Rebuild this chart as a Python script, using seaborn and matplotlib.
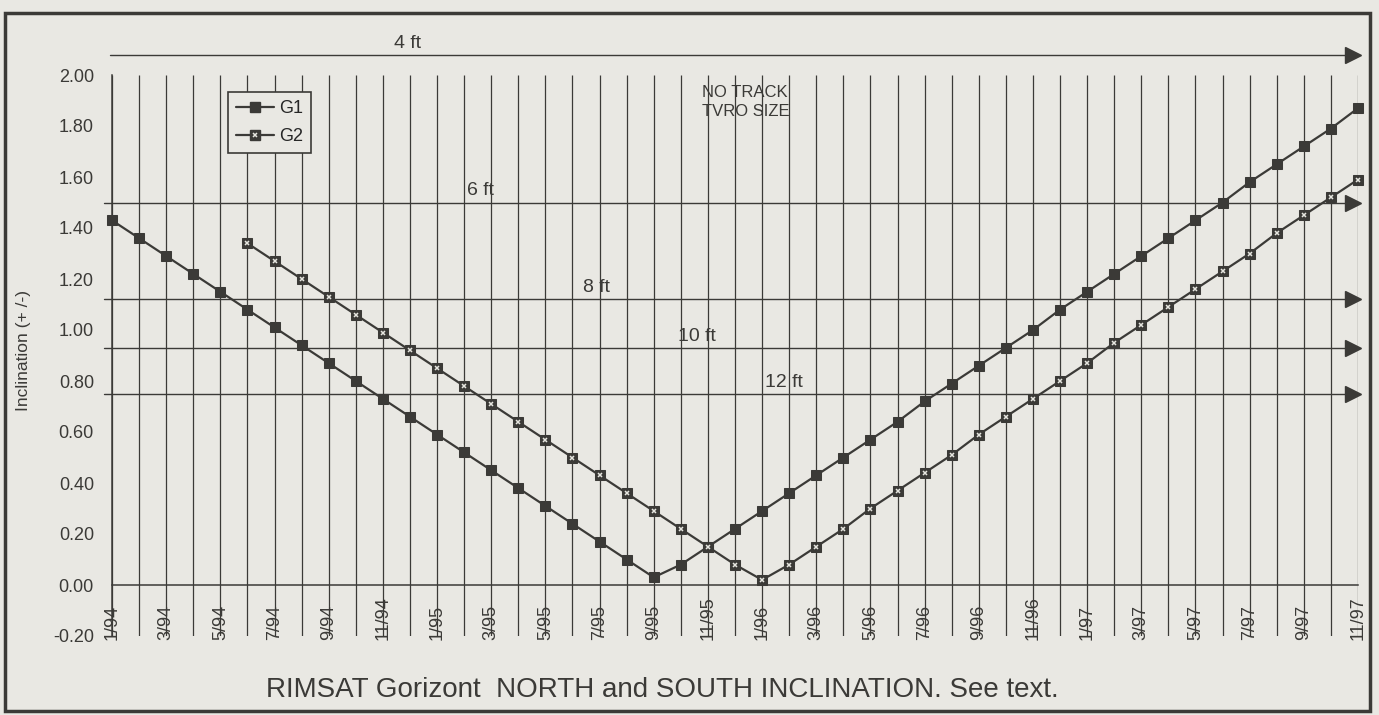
import numpy as np
import pandas as pd
import matplotlib
matplotlib.use("Agg")
import matplotlib.pyplot as plt
from matplotlib.lines import Line2D
from matplotlib.patches import Rectangle
from matplotlib.legend_handler import HandlerTuple
import seaborn as sns

# months 1/94 .. 11/97, one value per month
months = [f"{m}/{y}" for y in (94, 95, 96, 97) for m in range(1, 13)][:47]
tick_labels = months[::2]

g1 = [1.43, 1.36, 1.29, 1.22, 1.15, 1.08, 1.01, 0.94, 0.87, 0.80, 0.73, 0.66,
      0.59, 0.52, 0.45, 0.38, 0.31, 0.24, 0.17, 0.10, 0.03, 0.08, 0.15, 0.22,
      0.29, 0.36, 0.43, 0.50, 0.57, 0.64, 0.72, 0.79, 0.86, 0.93, 1.00, 1.08,
      1.15, 1.22, 1.29, 1.36, 1.43, 1.50, 1.58, 1.65, 1.72, 1.79, 1.87]
g2 = [None, None, None, None, None, 1.34, 1.27, 1.20, 1.13, 1.06, 0.99, 0.92,
      0.85, 0.78, 0.71, 0.64, 0.57, 0.50, 0.43, 0.36, 0.29, 0.22, 0.15, 0.08,
      0.02, 0.08, 0.15, 0.22, 0.30, 0.37, 0.44, 0.51, 0.59, 0.66, 0.73, 0.80,
      0.87, 0.95, 1.02, 1.09, 1.16, 1.23, 1.30, 1.38, 1.45, 1.52, 1.59]

# dish size reference lines
dish_labels = ["4 ft", "6 ft", "8 ft", "10 ft", "12 ft"]
dish_levels = [2.08, 1.50, 1.12, 0.93, 0.75]
dish_label_x = [10.9, 13.6, 17.9, 21.6, 24.8]
dish_start_x = [-0.07, -0.3, -0.3, -0.3, -0.3]

df = pd.DataFrame({"month": months, "G1": g1, "G2": g2})
df["G2"] = df["G2"].astype(float)
df["i"] = np.arange(len(df))

INK = "#3b3a37"
PAPER = "#e9e8e3"
W, H = 1379, 715

sns.set_theme(style="white")
plt.rcParams["font.family"] = ["Liberation Sans", "DejaVu Sans"]

fig = plt.figure(figsize=(W / 100, H / 100), dpi=100)
fig.patch.set_facecolor(PAPER)
ax = fig.add_axes([112 / W, 1 - 636 / H, 1246 / W, 599.25 / H])
ax.set_facecolor(PAPER)
ax.set_xlim(0, 46)
ax.set_ylim(-0.2, 2.15)

# monthly vertical lines
ax.vlines(df["i"], -0.2, 2.0, color=INK, lw=0.9, zorder=1)

# dish size lines with arrow heads
for lab, lvl, lx, xs in zip(dish_labels, dish_levels, dish_label_x, dish_start_x):
    ax.plot([xs, 45.8], [lvl, lvl], color=INK, lw=1.0, clip_on=False, zorder=1)
    ax.plot(45.8, lvl, marker=">", ms=11, color=INK, clip_on=False, zorder=3)
    ax.text(lx, lvl + 0.012, lab, ha="center", va="bottom", fontsize=14, color=INK)

sns.lineplot(data=df, x="i", y="G1", ax=ax, color=INK, lw=1.6, marker="s",
             markersize=7.5, markeredgecolor=INK, markerfacecolor=INK,
             legend=False, clip_on=False, zorder=4)
sns.lineplot(data=df, x="i", y="G2", ax=ax, color=INK, lw=1.6, marker="s",
             markersize=7.5, markeredgecolor=INK, markerfacecolor=INK,
             legend=False, clip_on=False, zorder=4)
ax.plot(df["i"], df["G2"], ls="none", marker="x", ms=3.5, mec="#e6e6e0",
        mew=1.1, clip_on=False, zorder=5)

ax.text(21.8, 1.96, "NO TRACK\nTVRO SIZE", ha="left", va="top",
        fontsize=12, color=INK, linespacing=1.35)

# axes styling
for s in ("top", "right"):
    ax.spines[s].set_visible(False)
ax.spines["bottom"].set_position(("data", 0))
ax.spines["bottom"].set_bounds(0, 46)
ax.spines["left"].set_bounds(-0.2, 2.0)
for s in ("bottom", "left"):
    ax.spines[s].set_color(INK)
    ax.spines[s].set_linewidth(1.1)

# month labels sit between 0 and -0.20, struck through by the month lines
ax.set_xticks(range(0, 47, 2))
ax.set_xticklabels([])
ax.tick_params(axis="x", length=0)
for xi, lab in zip(range(0, 47, 2), tick_labels):
    ax.text(xi, -0.215, lab, rotation=90, ha="center", va="bottom",
            fontsize=13, color=INK, zorder=2)

yt = np.round(np.arange(-0.2, 2.01, 0.2), 2)
ax.set_yticks(yt)
ax.set_yticklabels([f"{v:.2f}" for v in yt], fontsize=13, color=INK)
ax.tick_params(axis="y", direction="inout", length=10, width=1.1, color=INK, pad=8)
ax.set_xlabel("")
ax.set_ylabel("")

h1 = Line2D([], [], color=INK, lw=1.6, marker="s", ms=7.5, mfc=INK, mec=INK)
h2a = Line2D([], [], color=INK, lw=1.6, marker="s", ms=7.5, mfc=INK, mec=INK)
h2b = Line2D([], [], ls="none", marker="x", ms=3.5, mec="#e6e6e0", mew=1.1)
leg = ax.legend([h1, (h2a, h2b)], ["G1", "G2"], loc="upper left",
                bbox_to_anchor=(0.093, 0.908), borderaxespad=0, fontsize=13,
                handlelength=2.1, handletextpad=0.3, labelspacing=0.6,
                borderpad=0.45, fancybox=False, framealpha=1,
                handler_map={tuple: HandlerTuple(ndivide=1)})
leg.get_frame().set_edgecolor(INK)
leg.get_frame().set_facecolor(PAPER)
leg.get_frame().set_linewidth(1.2)
leg.set_zorder(6)

fig.text(24 / W, 1 - 350 / H, "Inclination (+ /-)", rotation=90,
         ha="center", va="center", fontsize=12.5, color=INK)
fig.text(662 / W, 1 - 690 / H,
         "RIMSAT Gorizont  NORTH and SOUTH INCLINATION. See text.",
         ha="center", va="center", fontsize=20, color=INK)

fig.add_artist(Rectangle((5 / W, 1 - 711 / H), 1365 / W, 698 / H,
                         transform=fig.transFigure, fill=False, lw=2.5, ec=INK))

fig.savefig("out.png", dpi=100, facecolor=PAPER)
